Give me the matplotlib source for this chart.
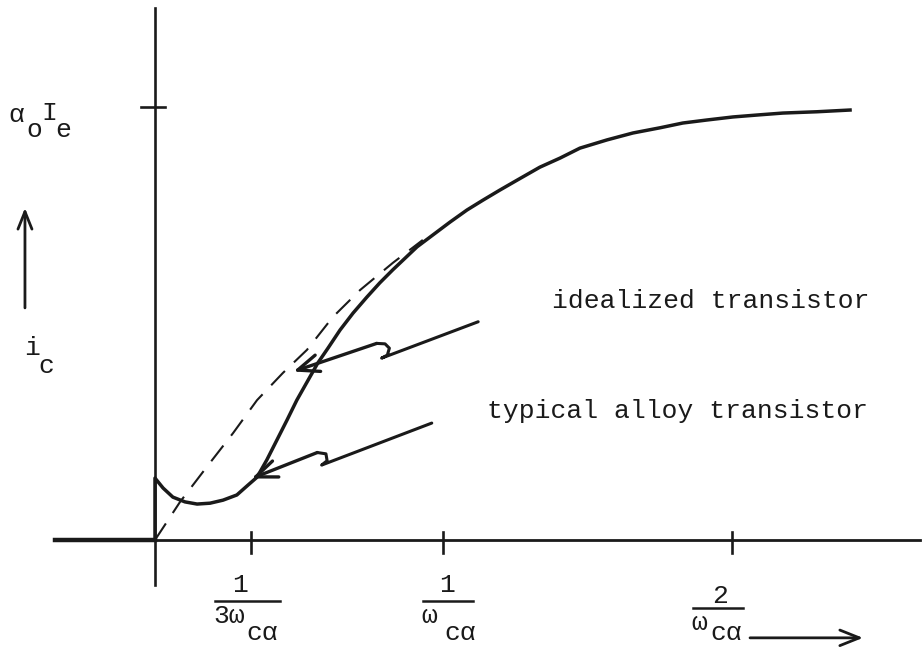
import matplotlib.pyplot as plt

# x in units of 1/w_ca, y in units of a0*Ie
alloy_x = [0.0, 0.0, 0.028, 0.062, 0.104, 0.146, 0.191, 0.236, 0.284, 0.323, 0.354,
           0.388, 0.423, 0.458, 0.492, 0.531, 0.565, 0.600, 0.642, 0.687, 0.735,
           0.780, 0.825, 0.909, 1.023, 1.082, 1.138, 1.196, 1.256, 1.335, 1.405,
           1.474, 1.568, 1.658, 1.752, 1.831, 1.915, 2.005, 2.099, 2.178, 2.296, 2.411]
alloy_y = [0.0, 0.143, 0.120, 0.099, 0.088, 0.083, 0.085, 0.092, 0.104, 0.127, 0.145,
           0.185, 0.231, 0.277, 0.323, 0.369, 0.409, 0.443, 0.485, 0.524, 0.561,
           0.594, 0.624, 0.677, 0.734, 0.762, 0.785, 0.808, 0.831, 0.861, 0.882,
           0.905, 0.924, 0.940, 0.952, 0.963, 0.970, 0.977, 0.982, 0.986, 0.989, 0.993]

ideal_x = [0.0, 0.087, 0.180, 0.271, 0.354, 0.444, 0.527, 0.617, 0.711, 0.825, 0.929]
ideal_y = [0.0, 0.088, 0.169, 0.247, 0.323, 0.386, 0.439, 0.515, 0.577, 0.640, 0.693]

xticks = [1 / 3, 1, 2]
ytick = 1.0

# squiggly pointer arrows (data coords)
ptr_ideal_x = [1.121, 0.786, 0.806, 0.813, 0.798, 0.769, 0.480]
ptr_ideal_y = [0.504, 0.420, 0.427, 0.443, 0.453, 0.454, 0.389]
ptr_alloy_x = [0.960, 0.578, 0.597, 0.593, 0.563, 0.335]
ptr_alloy_y = [0.270, 0.173, 0.183, 0.199, 0.202, 0.142]

FONT = 'Liberation Mono'
FS = 19
K = '#1a1a1a'


def arrow(ax, tip, tail, lw=2.2, scale=18):
    ax.annotate('', xy=tip, xytext=tail,
                arrowprops=dict(arrowstyle='->,head_length=0.7,head_width=0.28',
                                color=K, lw=lw, shrinkA=0, shrinkB=0,
                                mutation_scale=scale))


def pointer(ax, xs, ys):
    ax.plot(xs[:-1], ys[:-1], color=K, lw=2.2, solid_capstyle='round',
            solid_joinstyle='round')
    arrow(ax, (xs[-1], ys[-1]), (xs[-2], ys[-2]), lw=2.4, scale=22)


def txt(ax, x, y, s, ha='left'):
    ax.text(x, y, s, fontsize=FS, family=FONT, color=K, ha=ha, va='baseline')


def main():
    fig = plt.figure(figsize=(9.23, 6.64), dpi=100)
    ax = fig.add_axes([0, 0, 1, 1])
    ax.set_xlim(-0.5376, 2.664)
    ax.set_ylim(-0.2864, 1.2471)
    ax.axis('off')

    # axes
    ax.plot([-0.347, 2.653], [0, 0], color=K, lw=2.0)
    ax.plot([-0.347, 0], [0, 0], color=K, lw=3.2)
    ax.plot([0, 0], [-0.104, 1.229], color=K, lw=1.9)
    ax.plot([-0.05, 0.035], [ytick, ytick], color=K, lw=1.9)
    for t in xticks:
        ax.plot([t, t], [-0.03, 0.018], color=K, lw=1.9)

    # curves
    ax.plot(alloy_x, alloy_y, color=K, lw=2.5, solid_joinstyle='round')
    ax.plot(ideal_x, ideal_y, color=K, lw=1.5, linestyle=(0, (9.5, 6)))

    pointer(ax, ptr_ideal_x, ptr_ideal_y)
    pointer(ax, ptr_alloy_x, ptr_alloy_y)

    txt(ax, 1.377, 0.536, 'idealized transistor')
    txt(ax, 1.152, 0.282, 'typical alloy transistor')

    # y label a0 Ie
    txt(ax, -0.510, 0.965, 'α')
    txt(ax, -0.447, 0.931, 'o')
    txt(ax, -0.395, 0.970, 'I')
    txt(ax, -0.347, 0.931, 'e')
    arrow(ax, (-0.451, 0.767), (-0.451, 0.536), lw=2.0, scale=18)
    txt(ax, -0.455, 0.427, 'i')
    txt(ax, -0.405, 0.386, 'c')

    # x tick labels as fractions
    txt(ax, 0.295, -0.120, '1', ha='center')
    ax.plot([0.208, 0.434], [-0.141, -0.141], color=K, lw=1.8)
    txt(ax, 0.203, -0.192, '3ω')
    txt(ax, 0.318, -0.231, 'cα')

    txt(ax, 1.013, -0.120, '1', ha='center')
    ax.plot([0.930, 1.103], [-0.141, -0.141], color=K, lw=1.8)
    txt(ax, 0.925, -0.192, 'ω')
    txt(ax, 1.005, -0.231, 'cα')

    txt(ax, 1.960, -0.145, '2', ha='center')
    ax.plot([1.866, 2.040], [-0.157, -0.157], color=K, lw=1.8)
    txt(ax, 1.862, -0.208, 'ω')
    txt(ax, 1.925, -0.231, 'cα')
    arrow(ax, (2.456, -0.226), (2.064, -0.226), lw=2.0, scale=20)

    fig.savefig('out.png', dpi=100)


if __name__ == '__main__':
    main()
